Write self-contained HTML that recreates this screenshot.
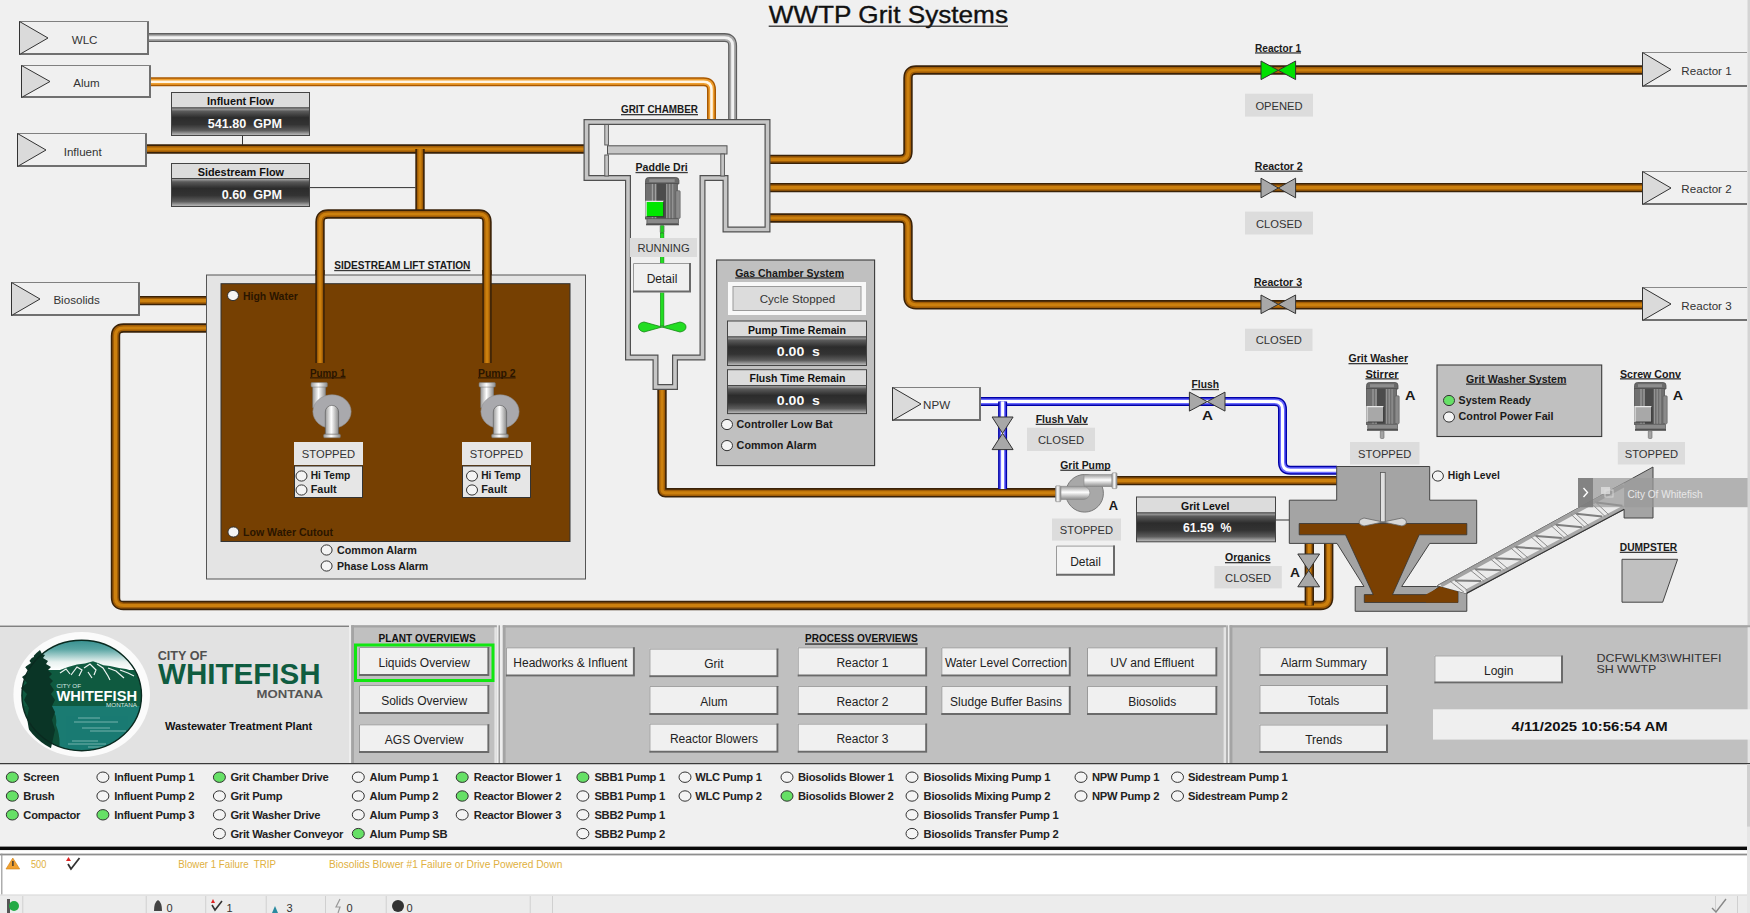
<!DOCTYPE html><html><head><meta charset="utf-8"><style>html,body{margin:0;padding:0;background:#f0f0f0;overflow:hidden;}svg{display:block;}text{font-family:"Liberation Sans",sans-serif;}</style></head><body>
<svg width="1750" height="913" viewBox="0 0 1750 913">
<defs>
<linearGradient id="gdark" x1="0" y1="0" x2="0" y2="1">
<stop offset="0" stop-color="#b4b4b4"/><stop offset="0.12" stop-color="#5a5a5a"/><stop offset="0.35" stop-color="#2c2c2c"/><stop offset="0.6" stop-color="#333"/><stop offset="0.82" stop-color="#5c5c5c"/><stop offset="0.95" stop-color="#a8a8a8"/><stop offset="1" stop-color="#bcbcbc"/>
</linearGradient>
<linearGradient id="gpipeV" x1="0" y1="0" x2="1" y2="0">
<stop offset="0" stop-color="#9a9a9a"/><stop offset="0.45" stop-color="#ffffff"/><stop offset="1" stop-color="#8a8a8a"/>
</linearGradient>
<linearGradient id="gpipeH" x1="0" y1="0" x2="0" y2="1">
<stop offset="0" stop-color="#9a9a9a"/><stop offset="0.45" stop-color="#ffffff"/><stop offset="1" stop-color="#8a8a8a"/>
</linearGradient>
<linearGradient id="gsky" x1="0" y1="0" x2="0" y2="1">
<stop offset="0" stop-color="#2f8b8b"/><stop offset="0.35" stop-color="#5aa6a4"/><stop offset="0.75" stop-color="#e8f2f0"/><stop offset="1" stop-color="#ffffff"/>
</linearGradient>
<clipPath id="logoclip"><ellipse cx="81.7" cy="695.5" rx="59.8" ry="55.2"/></clipPath><clipPath id="treeclip"><ellipse cx="81.7" cy="695.5" rx="64" ry="60"/></clipPath>
</defs>
<rect x="0" y="0" width="1750" height="913" fill="#f0f0f0"/>
<text x="768.7" y="22.8" font-size="24.5" font-weight="normal" fill="#111" text-anchor="start" textLength="239.3" lengthAdjust="spacingAndGlyphs" stroke="#111" stroke-width="0.35">WWTP Grit Systems</text>
<rect x="768.7" y="25.6" width="239.3" height="1.2" fill="#222"/>
<path d="M149 37.6 H724.5 Q732.6 37.6 732.6 45.7 V120" fill="none" stroke="#5e5e5e" stroke-width="9" stroke-linejoin="round"/>
<path d="M149 37.6 H724.5 Q732.6 37.6 732.6 45.7 V120" fill="none" stroke="#ababab" stroke-width="6.4" stroke-linejoin="round"/>
<path d="M149 37.6 H724.5 Q732.6 37.6 732.6 45.7 V120" fill="none" stroke="#f2f2f2" stroke-width="2.8" stroke-linejoin="round"/>
<path d="M151 81.8 H703.5 Q711.5 81.8 711.5 89.8 V120" fill="none" stroke="#a85800" stroke-width="9" stroke-linejoin="round"/>
<path d="M151 81.8 H703.5 Q711.5 81.8 711.5 89.8 V120" fill="none" stroke="#f0a030" stroke-width="6" stroke-linejoin="round"/>
<path d="M151 81.8 H703.5 Q711.5 81.8 711.5 89.8 V120" fill="none" stroke="#fff6e6" stroke-width="2.6" stroke-linejoin="round"/>
<path d="M147 149 H584" fill="none" stroke="#3a2208" stroke-width="9.4" stroke-linejoin="round"/>
<path d="M147 149 H584" fill="none" stroke="#a05c06" stroke-width="6.2" stroke-linejoin="round"/>
<path d="M147 149 H584" fill="none" stroke="#cc800e" stroke-width="3.2" stroke-linejoin="round"/>
<path d="M420 149 V214" fill="none" stroke="#3a2208" stroke-width="9.4" stroke-linejoin="round"/>
<path d="M420 149 V214" fill="none" stroke="#a05c06" stroke-width="6.2" stroke-linejoin="round"/>
<path d="M420 149 V214" fill="none" stroke="#cc800e" stroke-width="3.2" stroke-linejoin="round"/>
<path d="M320 363 V222 Q320 214 328 214 H479 Q487 214 487 222 V363" fill="none" stroke="#3a2208" stroke-width="9.4" stroke-linejoin="round"/>
<path d="M320 363 V222 Q320 214 328 214 H479 Q487 214 487 222 V363" fill="none" stroke="#a05c06" stroke-width="6.2" stroke-linejoin="round"/>
<path d="M320 363 V222 Q320 214 328 214 H479 Q487 214 487 222 V363" fill="none" stroke="#cc800e" stroke-width="3.2" stroke-linejoin="round"/>
<path d="M140 300.6 H207" fill="none" stroke="#3a2208" stroke-width="9.4" stroke-linejoin="round"/>
<path d="M140 300.6 H207" fill="none" stroke="#a05c06" stroke-width="6.2" stroke-linejoin="round"/>
<path d="M140 300.6 H207" fill="none" stroke="#cc800e" stroke-width="3.2" stroke-linejoin="round"/>
<path d="M207 328 H123.5 Q115.5 328 115.5 336 V597.5 Q115.5 605.5 123.5 605.5 H1320.7 Q1328.7 605.5 1328.7 597.5 V543" fill="none" stroke="#3a2208" stroke-width="9.4" stroke-linejoin="round"/>
<path d="M207 328 H123.5 Q115.5 328 115.5 336 V597.5 Q115.5 605.5 123.5 605.5 H1320.7 Q1328.7 605.5 1328.7 597.5 V543" fill="none" stroke="#a05c06" stroke-width="6.2" stroke-linejoin="round"/>
<path d="M207 328 H123.5 Q115.5 328 115.5 336 V597.5 Q115.5 605.5 123.5 605.5 H1320.7 Q1328.7 605.5 1328.7 597.5 V543" fill="none" stroke="#cc800e" stroke-width="3.2" stroke-linejoin="round"/>
<path d="M1309.3 543 V605.5" fill="none" stroke="#3a2208" stroke-width="9.4" stroke-linejoin="round"/>
<path d="M1309.3 543 V605.5" fill="none" stroke="#a05c06" stroke-width="6.2" stroke-linejoin="round"/>
<path d="M1309.3 543 V605.5" fill="none" stroke="#cc800e" stroke-width="3.2" stroke-linejoin="round"/>
<path d="M662 389 V489.3 Q662 492.8 665.5 492.8 H1056" fill="none" stroke="#3a2208" stroke-width="9.4" stroke-linejoin="round"/>
<path d="M662 389 V489.3 Q662 492.8 665.5 492.8 H1056" fill="none" stroke="#a05c06" stroke-width="6.2" stroke-linejoin="round"/>
<path d="M662 389 V489.3 Q662 492.8 665.5 492.8 H1056" fill="none" stroke="#cc800e" stroke-width="3.2" stroke-linejoin="round"/>
<path d="M1117 480.6 H1337" fill="none" stroke="#3a2208" stroke-width="9.4" stroke-linejoin="round"/>
<path d="M1117 480.6 H1337" fill="none" stroke="#a05c06" stroke-width="6.2" stroke-linejoin="round"/>
<path d="M1117 480.6 H1337" fill="none" stroke="#cc800e" stroke-width="3.2" stroke-linejoin="round"/>
<path d="M770 159.4 H900 Q908 159.4 908 151.4 V78 Q908 70 916 70 H1642" fill="none" stroke="#3a2208" stroke-width="9.4" stroke-linejoin="round"/>
<path d="M770 159.4 H900 Q908 159.4 908 151.4 V78 Q908 70 916 70 H1642" fill="none" stroke="#a05c06" stroke-width="6.2" stroke-linejoin="round"/>
<path d="M770 159.4 H900 Q908 159.4 908 151.4 V78 Q908 70 916 70 H1642" fill="none" stroke="#cc800e" stroke-width="3.2" stroke-linejoin="round"/>
<path d="M770 187.6 H1642" fill="none" stroke="#3a2208" stroke-width="9.4" stroke-linejoin="round"/>
<path d="M770 187.6 H1642" fill="none" stroke="#a05c06" stroke-width="6.2" stroke-linejoin="round"/>
<path d="M770 187.6 H1642" fill="none" stroke="#cc800e" stroke-width="3.2" stroke-linejoin="round"/>
<path d="M770 218 H900 Q908 218 908 226 V296.8 Q908 304.8 916 304.8 H1642" fill="none" stroke="#3a2208" stroke-width="9.4" stroke-linejoin="round"/>
<path d="M770 218 H900 Q908 218 908 226 V296.8 Q908 304.8 916 304.8 H1642" fill="none" stroke="#a05c06" stroke-width="6.2" stroke-linejoin="round"/>
<path d="M770 218 H900 Q908 218 908 226 V296.8 Q908 304.8 916 304.8 H1642" fill="none" stroke="#cc800e" stroke-width="3.2" stroke-linejoin="round"/>
<path d="M981 401.4 H1274.5 Q1282.5 401.4 1282.5 409.4 V462.3 Q1282.5 470.3 1290.5 470.3 H1337" fill="none" stroke="#0000a8" stroke-width="9" stroke-linejoin="round"/>
<path d="M981 401.4 H1274.5 Q1282.5 401.4 1282.5 409.4 V462.3 Q1282.5 470.3 1290.5 470.3 H1337" fill="none" stroke="#6a6aff" stroke-width="6" stroke-linejoin="round"/>
<path d="M981 401.4 H1274.5 Q1282.5 401.4 1282.5 409.4 V462.3 Q1282.5 470.3 1290.5 470.3 H1337" fill="none" stroke="#ffffff" stroke-width="3" stroke-linejoin="round"/>
<path d="M1002.6 401.4 V489" fill="none" stroke="#0000a8" stroke-width="9" stroke-linejoin="round"/>
<path d="M1002.6 401.4 V489" fill="none" stroke="#6a6aff" stroke-width="6" stroke-linejoin="round"/>
<path d="M1002.6 401.4 V489" fill="none" stroke="#ffffff" stroke-width="3" stroke-linejoin="round"/>
<path d="M242.5 136 V145 M310 187.6 H415.5 M1275.5 520 H1289.3" stroke="#333" stroke-width="1" fill="none"/>
<rect x="19.5" y="21.5" width="129" height="33" fill="#f0f0f0" stroke="#808080" stroke-width="1"/>
<path d="M20 54 H148 V22" fill="none" stroke="#707070" stroke-width="2"/>
<path d="M19.5 21.5 L48 38.0 L19.5 54.5 Z" fill="#dadada" stroke="#333" stroke-width="1"/>
<text x="84.6" y="43.6" font-size="11.6" font-weight="normal" fill="#333" text-anchor="middle" >WLC</text>
<rect x="21.5" y="65.5" width="129" height="32" fill="#f0f0f0" stroke="#808080" stroke-width="1"/>
<path d="M22 97 H150 V66" fill="none" stroke="#707070" stroke-width="2"/>
<path d="M21.5 65.5 L50 81.5 L21.5 97.5 Z" fill="#dadada" stroke="#333" stroke-width="1"/>
<text x="86.5" y="86.5" font-size="11.6" font-weight="normal" fill="#333" text-anchor="middle" >Alum</text>
<rect x="17.5" y="133.5" width="129" height="33" fill="#f0f0f0" stroke="#808080" stroke-width="1"/>
<path d="M18 166 H146 V134" fill="none" stroke="#707070" stroke-width="2"/>
<path d="M17.5 133.5 L46 150.0 L17.5 166.5 Z" fill="#dadada" stroke="#333" stroke-width="1"/>
<text x="82.7" y="155.5" font-size="11.6" font-weight="normal" fill="#333" text-anchor="middle" >Influent</text>
<rect x="11.5" y="282.5" width="128" height="33" fill="#f0f0f0" stroke="#808080" stroke-width="1"/>
<path d="M12 315 H139 V283" fill="none" stroke="#707070" stroke-width="2"/>
<path d="M11.5 282.5 L40 299.0 L11.5 315.5 Z" fill="#dadada" stroke="#333" stroke-width="1"/>
<text x="76.6" y="303.8" font-size="11.6" font-weight="normal" fill="#333" text-anchor="middle" >Biosolids</text>
<rect x="1642" y="52" width="105" height="35" fill="#f0f0f0"/>
<path d="M1747 52.5 H1642.5 V86 " fill="none" stroke="#8a8a8a" stroke-width="1"/>
<path d="M1643 86 H1747" fill="none" stroke="#707070" stroke-width="2"/>
<path d="M1642.5 52.5 L1671 69.5 L1642.5 86.5 Z" fill="#dadada" stroke="#333" stroke-width="1"/>
<text x="1706.5" y="74.6" font-size="11.6" font-weight="normal" fill="#333" text-anchor="middle" >Reactor 1</text>
<rect x="1642" y="171" width="105" height="34" fill="#f0f0f0"/>
<path d="M1747 171.5 H1642.5 V204 " fill="none" stroke="#8a8a8a" stroke-width="1"/>
<path d="M1643 204 H1747" fill="none" stroke="#707070" stroke-width="2"/>
<path d="M1642.5 171.5 L1671 188.0 L1642.5 204.5 Z" fill="#dadada" stroke="#333" stroke-width="1"/>
<text x="1706.5" y="192.6" font-size="11.6" font-weight="normal" fill="#333" text-anchor="middle" >Reactor 2</text>
<rect x="1642" y="287" width="105" height="34" fill="#f0f0f0"/>
<path d="M1747 287.5 H1642.5 V320 " fill="none" stroke="#8a8a8a" stroke-width="1"/>
<path d="M1643 320 H1747" fill="none" stroke="#707070" stroke-width="2"/>
<path d="M1642.5 287.5 L1671 304.0 L1642.5 320.5 Z" fill="#dadada" stroke="#333" stroke-width="1"/>
<text x="1706.5" y="309.6" font-size="11.6" font-weight="normal" fill="#333" text-anchor="middle" >Reactor 3</text>
<rect x="892.5" y="387.5" width="88" height="33" fill="#f0f0f0" stroke="#808080" stroke-width="1"/>
<path d="M893 420 H980 V388" fill="none" stroke="#707070" stroke-width="2"/>
<path d="M892.5 387.5 L921 404.0 L892.5 420.5 Z" fill="#dadada" stroke="#333" stroke-width="1"/>
<text x="936.6" y="408.5" font-size="11.6" font-weight="normal" fill="#333" text-anchor="middle" >NPW</text>
<rect x="171.5" y="92.5" width="138.0" height="15.5" fill="#dcdcdc" stroke="#444" stroke-width="1"/>
<rect x="171.5" y="108" width="138.0" height="27.5" fill="url(#gdark)" stroke="#444" stroke-width="1"/>
<text x="207" y="104.5" font-size="11.5" font-weight="bold" fill="#111" text-anchor="start" textLength="67" lengthAdjust="spacingAndGlyphs" >Influent Flow</text>
<text x="207.8" y="127.7" font-size="13.5" font-weight="bold" fill="#fafafa" text-anchor="start" textLength="74.2" lengthAdjust="spacingAndGlyphs" xml:space="preserve">541.80  GPM</text>
<rect x="171.5" y="163.5" width="138.0" height="15.0" fill="#dcdcdc" stroke="#444" stroke-width="1"/>
<rect x="171.5" y="178.5" width="138.0" height="28.0" fill="url(#gdark)" stroke="#444" stroke-width="1"/>
<text x="197.7" y="176.3" font-size="11.5" font-weight="bold" fill="#111" text-anchor="start" textLength="86.3" lengthAdjust="spacingAndGlyphs" >Sidestream Flow</text>
<text x="221.7" y="198.7" font-size="13.5" font-weight="bold" fill="#fafafa" text-anchor="start" textLength="60.3" lengthAdjust="spacingAndGlyphs" xml:space="preserve">0.60  GPM</text>
<text x="621" y="113.3" font-size="11.5" font-weight="bold" fill="#1a1a1a" text-anchor="start" textLength="77" lengthAdjust="spacingAndGlyphs" >GRIT CHAMBER</text>
<rect x="621" y="114.0" width="77" height="1.3" fill="#1a1a1a" opacity="0.85"/>
<path d="M702.5 178 L702.5 357.5 L675 357.5 L675 387 L655.5 387 L655.5 357.5 L628 357.5 L628 178 L586.5 178 L586.5 122 L767.5 122 L767.5 229.5 L725.5 229.5 L725.5 178 Z" fill="none" stroke="#505050" stroke-width="6" stroke-linejoin="miter"/>
<path d="M702.5 178 L702.5 357.5 L675 357.5 L675 387 L655.5 387 L655.5 357.5 L628 357.5 L628 178 L586.5 178 L586.5 122 L767.5 122 L767.5 229.5 L725.5 229.5 L725.5 178 Z" fill="none" stroke="#c6c6c6" stroke-width="3.6" stroke-linejoin="miter"/>
<rect x="607.5" y="145.8" width="119.5" height="8.2" fill="#c6c6c6" stroke="#505050" stroke-width="1"/>
<rect x="604.8" y="124.5" width="3.6" height="20.5" fill="#c6c6c6" stroke="#505050" stroke-width="0.9"/>
<rect x="604.8" y="155" width="3.6" height="21" fill="#c6c6c6" stroke="#505050" stroke-width="0.9"/>
<rect x="720.8" y="154" width="3.6" height="22" fill="#c6c6c6" stroke="#505050" stroke-width="0.9"/>
<text x="635.5" y="171.2" font-size="11.5" font-weight="bold" fill="#1a1a1a" text-anchor="start" textLength="52.3" lengthAdjust="spacingAndGlyphs" >Paddle Dri</text>
<rect x="635.5" y="171.89999999999998" width="52.3" height="1.3" fill="#1a1a1a" opacity="0.85"/>
<g transform="translate(645,177) scale(1.06,0.99)">
<path d="M0.5 7 V3.5 Q0.5 0.5 3.5 0.5 H29 Q32 0.5 32 3.5 V7 Z" fill="#6a6a6a" stroke="#505050" stroke-width="0.8"/>
<rect x="4" y="2.2" width="24" height="3" fill="#8e8e8e"/>
<rect x="0.5" y="6.6" width="30" height="35.8" fill="#707070" stroke="#505050" stroke-width="0.8"/>
<rect x="6.4" y="7" width="1.2" height="35" fill="#a0a0a0"/><rect x="9.4" y="7" width="1.2" height="35" fill="#a0a0a0"/>
<rect x="11" y="7" width="8.8" height="35" fill="#4c4c4c"/>
<rect x="19.8" y="7" width="1.2" height="35" fill="#949494"/><rect x="22.6" y="7" width="1.2" height="35" fill="#949494"/><rect x="25.5" y="7" width="1.2" height="35" fill="#949494"/>
<rect x="29" y="13.8" width="4.2" height="28" rx="1" fill="#8a8a8a" stroke="#5a5a5a" stroke-width="0.6"/>
<rect x="1" y="24.6" width="16.6" height="15.4" fill="#00e600"/>
<path d="M1 40 V24.6 H17.6" fill="none" stroke="#e8e8e8" stroke-width="1.2"/><path d="M1.5 40 H17.6 V24.6" fill="none" stroke="#333" stroke-width="0.9"/>
<rect x="1.8" y="42.2" width="29.7" height="4.8" fill="#8a8a8a" stroke="#555" stroke-width="0.7"/>
<rect x="1" y="47" width="31" height="1.8" fill="#505050"/>
<rect x="14.3" y="48.8" width="3.7" height="7.7" rx="1" fill="#22cc22" stroke="#666" stroke-width="0.6"/>
</g>
<rect x="660.3" y="233" width="3.6" height="93" fill="#22dd22" stroke="#118811" stroke-width="0.6"/>
<path d="M662 327 L644 322 Q638 323 638.5 327 Q639 331 644 332 Z M662 327 L680 322 Q686 323 686 327 Q686 331 680 332 Z" fill="#22dd22" stroke="#118811" stroke-width="0.8"/>
<rect x="630" y="238" width="67" height="19" fill="#dcdcdc"/>
<text x="663.5" y="252.0" font-size="11.2" font-weight="normal" fill="#333" text-anchor="middle" >RUNNING</text>
<rect x="633" y="263" width="58" height="29.5" fill="#f0f0f0"/>
<path d="M633.5 292.5 V263.5 H691" fill="none" stroke="#9a9a9a" stroke-width="1"/>
<path d="M633 291.5 H690 V263" fill="none" stroke="#6a6a6a" stroke-width="2"/>
<text x="662.0" y="282.9" font-size="12" font-weight="normal" fill="#222" text-anchor="middle" >Detail</text>
<text x="334.2" y="269.2" font-size="11.5" font-weight="bold" fill="#1a1a1a" text-anchor="start" textLength="136.2" lengthAdjust="spacingAndGlyphs" >SIDESTREAM LIFT STATION</text>
<rect x="334.2" y="269.9" width="136.2" height="1.3" fill="#1a1a1a" opacity="0.85"/>
<rect x="206.5" y="275" width="379" height="304" fill="#e4e4e4" stroke="#555" stroke-width="1"/>
<rect x="221" y="283.7" width="349" height="257.8" fill="#764002" stroke="#333" stroke-width="1"/>
<path d="M320 270 V363" fill="none" stroke="#3a2208" stroke-width="9.4" stroke-linejoin="round"/>
<path d="M320 270 V363" fill="none" stroke="#a05c06" stroke-width="6.2" stroke-linejoin="round"/>
<path d="M320 270 V363" fill="none" stroke="#cc800e" stroke-width="3.2" stroke-linejoin="round"/>
<path d="M487 270 V363" fill="none" stroke="#3a2208" stroke-width="9.4" stroke-linejoin="round"/>
<path d="M487 270 V363" fill="none" stroke="#a05c06" stroke-width="6.2" stroke-linejoin="round"/>
<path d="M487 270 V363" fill="none" stroke="#cc800e" stroke-width="3.2" stroke-linejoin="round"/>
<ellipse cx="233" cy="295.5" rx="5.5" ry="5.1" fill="#f4f4f4" stroke="#333" stroke-width="1"/>
<text x="243" y="299.5" font-size="11.5" font-weight="bold" fill="#2a1500" text-anchor="start" textLength="54.8" lengthAdjust="spacingAndGlyphs" >High Water</text>
<ellipse cx="233.4" cy="532" rx="5.5" ry="5.1" fill="#f4f4f4" stroke="#333" stroke-width="1"/>
<text x="243" y="536" font-size="11.5" font-weight="bold" fill="#2a1500" text-anchor="start" textLength="90" lengthAdjust="spacingAndGlyphs" >Low Water Cutout</text>
<ellipse cx="326.6" cy="550" rx="5.5" ry="5.1" fill="#f4f4f4" stroke="#333" stroke-width="1"/>
<text x="337" y="554" font-size="11.5" font-weight="bold" fill="#1a1a1a" text-anchor="start" textLength="79.7" lengthAdjust="spacingAndGlyphs" >Common Alarm</text>
<ellipse cx="326.6" cy="566" rx="5.5" ry="5.1" fill="#f4f4f4" stroke="#333" stroke-width="1"/>
<text x="337" y="570" font-size="11.5" font-weight="bold" fill="#1a1a1a" text-anchor="start" textLength="91.2" lengthAdjust="spacingAndGlyphs" >Phase Loss Alarm</text>
<text x="310" y="376.5" font-size="11.5" font-weight="bold" fill="#2a1500" text-anchor="start" textLength="35.6" lengthAdjust="spacingAndGlyphs" >Pump 1</text>
<rect x="310" y="377.2" width="35.6" height="1.3" fill="#2a1500" opacity="0.85"/>
<g transform="translate(311,382.6)">
<rect x="1.7" y="4" width="13" height="21" fill="url(#gpipeV)" stroke="#777" stroke-width="0.5"/>
<ellipse cx="21" cy="29" rx="19.1" ry="16.8" fill="#a9a9ad" stroke="#8e8e92" stroke-width="0.6"/>
<rect x="0" y="0" width="16.4" height="4.5" rx="1" fill="url(#gpipeV)" stroke="#777" stroke-width="0.5"/>
<path d="M14.3 51.8 V29.4 a6.65 6.65 0 0 1 13.3 0 V51.8 Z" fill="url(#gpipeV)" stroke="#555" stroke-width="0.6"/>
<rect x="12.6" y="51.6" width="16.8" height="3.6" rx="1" fill="url(#gpipeV)" stroke="#777" stroke-width="0.5"/>
</g>
<rect x="294" y="442" width="69" height="23" fill="#e6e6e6"/>
<text x="328.5" y="458.0" font-size="11.2" font-weight="normal" fill="#333" text-anchor="middle" >STOPPED</text>
<rect x="294.5" y="466" width="68" height="31.5" fill="#e6e6e6" stroke="#333" stroke-width="1"/>
<ellipse cx="301.5" cy="476" rx="5.5" ry="5.1" fill="#f4f4f4" stroke="#333" stroke-width="1"/>
<text x="310.7" y="479" font-size="11.5" font-weight="bold" fill="#1a1a1a" text-anchor="start" textLength="39.5" lengthAdjust="spacingAndGlyphs" >Hi Temp</text>
<ellipse cx="301.5" cy="490" rx="5.5" ry="5.1" fill="#f4f4f4" stroke="#333" stroke-width="1"/>
<text x="310.7" y="493" font-size="11.5" font-weight="bold" fill="#1a1a1a" text-anchor="start" textLength="26.0" lengthAdjust="spacingAndGlyphs" >Fault</text>
<text x="478" y="376.5" font-size="11.5" font-weight="bold" fill="#2a1500" text-anchor="start" textLength="37.6" lengthAdjust="spacingAndGlyphs" >Pump 2</text>
<rect x="478" y="377.2" width="37.6" height="1.3" fill="#2a1500" opacity="0.85"/>
<g transform="translate(479,382.6)">
<rect x="1.7" y="4" width="13" height="21" fill="url(#gpipeV)" stroke="#777" stroke-width="0.5"/>
<ellipse cx="21" cy="29" rx="19.1" ry="16.8" fill="#a9a9ad" stroke="#8e8e92" stroke-width="0.6"/>
<rect x="0" y="0" width="16.4" height="4.5" rx="1" fill="url(#gpipeV)" stroke="#777" stroke-width="0.5"/>
<path d="M14.3 51.8 V29.4 a6.65 6.65 0 0 1 13.3 0 V51.8 Z" fill="url(#gpipeV)" stroke="#555" stroke-width="0.6"/>
<rect x="12.6" y="51.6" width="16.8" height="3.6" rx="1" fill="url(#gpipeV)" stroke="#777" stroke-width="0.5"/>
</g>
<rect x="462" y="442" width="69" height="23" fill="#e6e6e6"/>
<text x="496.5" y="458.0" font-size="11.2" font-weight="normal" fill="#333" text-anchor="middle" >STOPPED</text>
<rect x="462.5" y="466" width="68" height="31.5" fill="#e6e6e6" stroke="#333" stroke-width="1"/>
<ellipse cx="472.0" cy="476" rx="5.5" ry="5.1" fill="#f4f4f4" stroke="#333" stroke-width="1"/>
<text x="481.2" y="479" font-size="11.5" font-weight="bold" fill="#1a1a1a" text-anchor="start" textLength="39.5" lengthAdjust="spacingAndGlyphs" >Hi Temp</text>
<ellipse cx="472.0" cy="490" rx="5.5" ry="5.1" fill="#f4f4f4" stroke="#333" stroke-width="1"/>
<text x="481.2" y="493" font-size="11.5" font-weight="bold" fill="#1a1a1a" text-anchor="start" textLength="26.0" lengthAdjust="spacingAndGlyphs" >Fault</text>
<text x="1255" y="51.6" font-size="11.5" font-weight="bold" fill="#1a1a1a" text-anchor="start" textLength="46" lengthAdjust="spacingAndGlyphs" >Reactor 1</text>
<rect x="1255" y="52.300000000000004" width="46" height="1.3" fill="#1a1a1a" opacity="0.85"/>
<path d="M1261.0 61.0 L1278.3 70.3 L1261.0 79.6 Z M1295.6 61.0 L1278.3 70.3 L1295.6 79.6 Z" fill="#00e000" stroke="#333" stroke-width="1"/>
<rect x="1245" y="93.7" width="68" height="22.89999999999999" fill="#dcdcdc"/>
<text x="1279.0" y="109.7" font-size="11.2" font-weight="normal" fill="#333" text-anchor="middle" >OPENED</text>
<text x="1254.8" y="169.8" font-size="11.5" font-weight="bold" fill="#1a1a1a" text-anchor="start" textLength="47.9" lengthAdjust="spacingAndGlyphs" >Reactor 2</text>
<rect x="1254.8" y="170.5" width="47.9" height="1.3" fill="#1a1a1a" opacity="0.85"/>
<path d="M1261.0 178.2 L1278.3 188 L1261.0 197.8 Z M1295.6 178.2 L1278.3 188 L1295.6 197.8 Z" fill="#a8a8a8" stroke="#333" stroke-width="1"/>
<rect x="1245" y="211.6" width="68" height="22.900000000000006" fill="#dcdcdc"/>
<text x="1279.0" y="227.6" font-size="11.2" font-weight="normal" fill="#333" text-anchor="middle" >CLOSED</text>
<text x="1254" y="285.8" font-size="11.5" font-weight="bold" fill="#1a1a1a" text-anchor="start" textLength="48" lengthAdjust="spacingAndGlyphs" >Reactor 3</text>
<rect x="1254" y="286.5" width="48" height="1.3" fill="#1a1a1a" opacity="0.85"/>
<path d="M1261.0 295.0 L1278.3 304.3 L1261.0 313.6 Z M1295.6 295.0 L1278.3 304.3 L1295.6 313.6 Z" fill="#a8a8a8" stroke="#333" stroke-width="1"/>
<rect x="1245" y="328.7" width="67.5" height="22.30000000000001" fill="#dcdcdc"/>
<text x="1278.75" y="344.4" font-size="11.2" font-weight="normal" fill="#333" text-anchor="middle" >CLOSED</text>
<rect x="716.6" y="260" width="158" height="205.6" fill="#c0c0c0" stroke="#3a3a3a" stroke-width="1.1"/>
<text x="735.2" y="276.6" font-size="11.5" font-weight="bold" fill="#1a1a1a" text-anchor="start" textLength="108.8" lengthAdjust="spacingAndGlyphs" >Gas Chamber System</text>
<rect x="735.2" y="277.3" width="108.8" height="1.3" fill="#1a1a1a" opacity="0.85"/>
<rect x="728" y="282" width="138" height="33" fill="#f8f8f8"/>
<rect x="733" y="286.5" width="128" height="24" fill="#dcdcdc" stroke="#9a9a9a" stroke-width="1"/>
<text x="797.4" y="303.3" font-size="11.6" font-weight="normal" fill="#333" text-anchor="middle" >Cycle Stopped</text>
<rect x="727.5" y="321" width="139.0" height="16" fill="#dcdcdc" stroke="#444" stroke-width="1"/>
<rect x="727.5" y="337" width="139.0" height="28.5" fill="url(#gdark)" stroke="#444" stroke-width="1"/>
<text x="748" y="333.6" font-size="11.5" font-weight="bold" fill="#111" text-anchor="start" textLength="98" lengthAdjust="spacingAndGlyphs" >Pump Time Remain</text>
<text x="776.8" y="355.8" font-size="13.5" font-weight="bold" fill="#fafafa" text-anchor="start" textLength="43.1" lengthAdjust="spacingAndGlyphs" xml:space="preserve">0.00  s</text>
<rect x="727.5" y="369.7" width="139.0" height="15.900000000000034" fill="#dcdcdc" stroke="#444" stroke-width="1"/>
<rect x="727.5" y="385.6" width="139.0" height="28.0" fill="url(#gdark)" stroke="#444" stroke-width="1"/>
<text x="749.5" y="382" font-size="11.5" font-weight="bold" fill="#111" text-anchor="start" textLength="95.8" lengthAdjust="spacingAndGlyphs" >Flush Time Remain</text>
<text x="776.8" y="404.5" font-size="13.5" font-weight="bold" fill="#fafafa" text-anchor="start" textLength="43.1" lengthAdjust="spacingAndGlyphs" xml:space="preserve">0.00  s</text>
<ellipse cx="727" cy="424.5" rx="5.5" ry="5.1" fill="#f4f4f4" stroke="#333" stroke-width="1"/>
<text x="736.6" y="427.8" font-size="11.5" font-weight="bold" fill="#1a1a1a" text-anchor="start" textLength="95.9" lengthAdjust="spacingAndGlyphs" >Controller Low Bat</text>
<ellipse cx="727" cy="445.6" rx="5.5" ry="5.1" fill="#f4f4f4" stroke="#333" stroke-width="1"/>
<text x="736.6" y="449.2" font-size="11.5" font-weight="bold" fill="#1a1a1a" text-anchor="start" textLength="80.0" lengthAdjust="spacingAndGlyphs" >Common Alarm</text>
<text x="1035.7" y="423" font-size="11.5" font-weight="bold" fill="#1a1a1a" text-anchor="start" textLength="52.1" lengthAdjust="spacingAndGlyphs" >Flush Valv</text>
<rect x="1035.7" y="423.7" width="52.1" height="1.3" fill="#1a1a1a" opacity="0.85"/>
<path d="M992.1 417.0 L1002.6 433.3 L1013.1 417.0 Z M992.1 449.6 L1002.6 433.3 L1013.1 449.6 Z" fill="#a8a8a8" stroke="#333" stroke-width="1"/>
<rect x="1027" y="427.7" width="68" height="23.30000000000001" fill="#dcdcdc"/>
<text x="1061.0" y="443.9" font-size="11.2" font-weight="normal" fill="#333" text-anchor="middle" >CLOSED</text>
<text x="1191.6" y="388.2" font-size="11.5" font-weight="bold" fill="#1a1a1a" text-anchor="start" textLength="27.4" lengthAdjust="spacingAndGlyphs" >Flush</text>
<rect x="1191.6" y="388.9" width="27.4" height="1.3" fill="#1a1a1a" opacity="0.85"/>
<path d="M1189.4 392.1 L1207.2 401.6 L1189.4 411.1 Z M1225.0 392.1 L1207.2 401.6 L1225.0 411.1 Z" fill="#a8a8a8" stroke="#333" stroke-width="1"/>
<text x="1202" y="420" font-size="13" font-weight="bold" fill="#1a1a1a" text-anchor="start" textLength="11" lengthAdjust="spacingAndGlyphs" >A</text>
<text x="1060.3" y="468.9" font-size="11.5" font-weight="bold" fill="#1a1a1a" text-anchor="start" textLength="50.2" lengthAdjust="spacingAndGlyphs" >Grit Pump</text>
<rect x="1060.3" y="469.59999999999997" width="50.2" height="1.3" fill="#1a1a1a" opacity="0.85"/>
<g>
<circle cx="1084.6" cy="493.3" r="18.8" fill="#a8a8a8" stroke="#7a7a7a" stroke-width="1"/>
<rect x="1084" y="474.6" width="28" height="12.1" fill="url(#gpipeH)" stroke="#888" stroke-width="0.6"/>
<rect x="1112" y="472.8" width="5" height="15.8" rx="1" fill="url(#gpipeV)" stroke="#888" stroke-width="0.6"/>
<path d="M1060.7 486.3 H1083.3 a6.6 6.6 0 0 1 0 13.2 H1060.7 Z" fill="url(#gpipeH)" stroke="#888" stroke-width="0.6"/>
<rect x="1055.5" y="485.8" width="5.3" height="15.9" rx="1" fill="url(#gpipeV)" stroke="#888" stroke-width="0.6"/>
</g>
<text x="1108.7" y="509.8" font-size="13" font-weight="bold" fill="#1a1a1a" text-anchor="start" textLength="9.3" lengthAdjust="spacingAndGlyphs" >A</text>
<rect x="1052" y="518.5" width="69" height="22.100000000000023" fill="#dcdcdc"/>
<text x="1086.5" y="534.1" font-size="11.2" font-weight="normal" fill="#333" text-anchor="middle" >STOPPED</text>
<rect x="1056" y="545.6" width="59" height="30.199999999999932" fill="#f4f4f4"/>
<path d="M1056.5 575.8 V546.1 H1115" fill="none" stroke="#9a9a9a" stroke-width="1"/>
<path d="M1056 574.8 H1114 V545.6" fill="none" stroke="#6a6a6a" stroke-width="2"/>
<text x="1085.5" y="565.8" font-size="12" font-weight="normal" fill="#222" text-anchor="middle" >Detail</text>
<rect x="1136.5" y="497" width="139.0" height="16" fill="#dcdcdc" stroke="#444" stroke-width="1"/>
<rect x="1136.5" y="513" width="139.0" height="28.799999999999955" fill="url(#gdark)" stroke="#444" stroke-width="1"/>
<text x="1181" y="509.6" font-size="11.5" font-weight="bold" fill="#111" text-anchor="start" textLength="48.5" lengthAdjust="spacingAndGlyphs" >Grit Level</text>
<text x="1183" y="531.7" font-size="13.5" font-weight="bold" fill="#fafafa" text-anchor="start" textLength="48.5" lengthAdjust="spacingAndGlyphs" xml:space="preserve">61.59  %</text>
<text x="1225" y="561.3" font-size="11.5" font-weight="bold" fill="#1a1a1a" text-anchor="start" textLength="45.5" lengthAdjust="spacingAndGlyphs" >Organics</text>
<rect x="1225" y="562.0" width="45.5" height="1.3" fill="#1a1a1a" opacity="0.85"/>
<rect x="1214.4" y="566" width="67.39999999999986" height="22.399999999999977" fill="#dcdcdc"/>
<text x="1248.1" y="581.7" font-size="11.2" font-weight="normal" fill="#333" text-anchor="middle" >CLOSED</text>
<path d="M1297.8 554.0 L1308.7 570.4 L1319.6000000000001 554.0 Z M1297.8 586.8 L1308.7 570.4 L1319.6000000000001 586.8 Z" fill="#a8a8a8" stroke="#333" stroke-width="1"/>
<text x="1290" y="576.8" font-size="13" font-weight="bold" fill="#1a1a1a" text-anchor="start" textLength="10" lengthAdjust="spacingAndGlyphs" >A</text>
<path d="M1336.7 466.5 H1429.7 V500.2 H1476.7 V543.4 H1429.7 L1401.7 586.5 H1436.6 L1466.8 591.8 V611.3 H1355.2 V586.5 H1364 L1337 543.4 H1289.3 V500.2 H1336.7 Z" fill="#a4a4a4" stroke="#444" stroke-width="1"/>
<path d="M1299.2 523.5 H1466.8 V534.8 H1419.2 L1392.5 594.6 H1457.7 V588 L1429.5 588 L1436.6 594.6 Z" fill="none"/>
<path d="M1299.2 523.5 H1466.8 V534.8 H1419.2 L1392.5 594.6 H1429 L1440 586 L1458 590 V602.5 H1364.3 V594.6 H1373.2 L1345.5 534.8 H1299.2 Z" fill="#7a4002" stroke="#333" stroke-width="0.8"/>
<rect x="1380.6" y="472.4" width="4.6" height="50" fill="#e0e0e0" stroke="#555" stroke-width="0.8"/>
<path d="M1383 522 L1364 518 Q1359 519 1359 522 Q1359 525 1364 526 Z M1383 522 L1402 518 Q1406.5 519 1406.5 522 Q1406.5 525 1402 526 Z" fill="#d8d8d8" stroke="#666" stroke-width="0.8"/>
<ellipse cx="1437.9" cy="476" rx="5.5" ry="5.1" fill="#f4f4f4" stroke="#333" stroke-width="1"/>
<text x="1447.7" y="479.2" font-size="11.5" font-weight="bold" fill="#1a1a1a" text-anchor="start" textLength="52.3" lengthAdjust="spacingAndGlyphs" >High Level</text>
<text x="1348.5" y="362.3" font-size="11.5" font-weight="bold" fill="#1a1a1a" text-anchor="start" textLength="59.5" lengthAdjust="spacingAndGlyphs" >Grit Washer</text>
<rect x="1348.5" y="363.0" width="59.5" height="1.3" fill="#1a1a1a" opacity="0.85"/>
<text x="1365.4" y="377.5" font-size="11.5" font-weight="bold" fill="#1a1a1a" text-anchor="start" textLength="33.3" lengthAdjust="spacingAndGlyphs" >Stirrer</text>
<rect x="1365.4" y="378.2" width="33.3" height="1.3" fill="#1a1a1a" opacity="0.85"/>
<g transform="translate(1366,382) scale(1.0,1.0)">
<path d="M0.5 7 V3.5 Q0.5 0.5 3.5 0.5 H29 Q32 0.5 32 3.5 V7 Z" fill="#6a6a6a" stroke="#505050" stroke-width="0.8"/>
<rect x="4" y="2.2" width="24" height="3" fill="#8e8e8e"/>
<rect x="0.5" y="6.6" width="30" height="35.8" fill="#707070" stroke="#505050" stroke-width="0.8"/>
<rect x="6.4" y="7" width="1.2" height="35" fill="#a0a0a0"/><rect x="9.4" y="7" width="1.2" height="35" fill="#a0a0a0"/>
<rect x="11" y="7" width="8.8" height="35" fill="#4c4c4c"/>
<rect x="19.8" y="7" width="1.2" height="35" fill="#949494"/><rect x="22.6" y="7" width="1.2" height="35" fill="#949494"/><rect x="25.5" y="7" width="1.2" height="35" fill="#949494"/>
<rect x="29" y="13.8" width="4.2" height="28" rx="1" fill="#8a8a8a" stroke="#5a5a5a" stroke-width="0.6"/>
<rect x="1" y="24.6" width="16.6" height="15.4" fill="#a8a8a8"/>
<path d="M1 40 V24.6 H17.6" fill="none" stroke="#e8e8e8" stroke-width="1.2"/><path d="M1.5 40 H17.6 V24.6" fill="none" stroke="#333" stroke-width="0.9"/>
<rect x="1.8" y="42.2" width="29.7" height="4.8" fill="#8a8a8a" stroke="#555" stroke-width="0.7"/>
<rect x="1" y="47" width="31" height="1.8" fill="#505050"/>
<rect x="14.3" y="48.8" width="3.7" height="7.7" rx="1" fill="#a4a4a4" stroke="#666" stroke-width="0.6"/>
</g>
<text x="1405" y="400" font-size="13" font-weight="bold" fill="#1a1a1a" text-anchor="start" textLength="10.5" lengthAdjust="spacingAndGlyphs" >A</text>
<rect x="1350" y="442" width="69.5" height="22.5" fill="#dcdcdc"/>
<text x="1384.75" y="457.8" font-size="11.2" font-weight="normal" fill="#333" text-anchor="middle" >STOPPED</text>
<rect x="1437" y="365" width="164.7" height="71.5" fill="#c0c0c0" stroke="#3a3a3a" stroke-width="1.1"/>
<text x="1466" y="382.8" font-size="11.5" font-weight="bold" fill="#1a1a1a" text-anchor="start" textLength="100.4" lengthAdjust="spacingAndGlyphs" >Grit Washer System</text>
<rect x="1466" y="383.5" width="100.4" height="1.3" fill="#1a1a1a" opacity="0.85"/>
<ellipse cx="1449" cy="400.5" rx="5.5" ry="5.1" fill="#66e066" stroke="#333" stroke-width="1"/>
<text x="1458.6" y="403.8" font-size="11.5" font-weight="bold" fill="#1a1a1a" text-anchor="start" textLength="72.4" lengthAdjust="spacingAndGlyphs" >System Ready</text>
<ellipse cx="1449" cy="417" rx="5.5" ry="5.1" fill="#f4f4f4" stroke="#333" stroke-width="1"/>
<text x="1458.6" y="420.2" font-size="11.5" font-weight="bold" fill="#1a1a1a" text-anchor="start" textLength="95.0" lengthAdjust="spacingAndGlyphs" >Control Power Fail</text>
<text x="1620" y="377.5" font-size="11.5" font-weight="bold" fill="#1a1a1a" text-anchor="start" textLength="61" lengthAdjust="spacingAndGlyphs" >Screw Conv</text>
<rect x="1620" y="378.2" width="61" height="1.3" fill="#1a1a1a" opacity="0.85"/>
<g transform="translate(1634,382) scale(1.0,1.0)">
<path d="M0.5 7 V3.5 Q0.5 0.5 3.5 0.5 H29 Q32 0.5 32 3.5 V7 Z" fill="#6a6a6a" stroke="#505050" stroke-width="0.8"/>
<rect x="4" y="2.2" width="24" height="3" fill="#8e8e8e"/>
<rect x="0.5" y="6.6" width="30" height="35.8" fill="#707070" stroke="#505050" stroke-width="0.8"/>
<rect x="6.4" y="7" width="1.2" height="35" fill="#a0a0a0"/><rect x="9.4" y="7" width="1.2" height="35" fill="#a0a0a0"/>
<rect x="11" y="7" width="8.8" height="35" fill="#4c4c4c"/>
<rect x="19.8" y="7" width="1.2" height="35" fill="#949494"/><rect x="22.6" y="7" width="1.2" height="35" fill="#949494"/><rect x="25.5" y="7" width="1.2" height="35" fill="#949494"/>
<rect x="29" y="13.8" width="4.2" height="28" rx="1" fill="#8a8a8a" stroke="#5a5a5a" stroke-width="0.6"/>
<rect x="1" y="24.6" width="16.6" height="15.4" fill="#a8a8a8"/>
<path d="M1 40 V24.6 H17.6" fill="none" stroke="#e8e8e8" stroke-width="1.2"/><path d="M1.5 40 H17.6 V24.6" fill="none" stroke="#333" stroke-width="0.9"/>
<rect x="1.8" y="42.2" width="29.7" height="4.8" fill="#8a8a8a" stroke="#555" stroke-width="0.7"/>
<rect x="1" y="47" width="31" height="1.8" fill="#505050"/>
<rect x="14.3" y="48.8" width="3.7" height="7.7" rx="1" fill="#a4a4a4" stroke="#666" stroke-width="0.6"/>
</g>
<text x="1672.7" y="400" font-size="13" font-weight="bold" fill="#1a1a1a" text-anchor="start" textLength="10.3" lengthAdjust="spacingAndGlyphs" >A</text>
<rect x="1617.8" y="442" width="67.20000000000005" height="22.5" fill="#dcdcdc"/>
<text x="1651.4" y="457.8" font-size="11.2" font-weight="normal" fill="#333" text-anchor="middle" >STOPPED</text>
<path d="M1437.5 585.5 L1653 467 V518 H1624.1 V509.3 L1466.4 593.4 Z" fill="#a4a4a4" stroke="#444" stroke-width="1"/>
<path d="M1437.5 585.5 L1624.1 482.9 V509.3 L1466.4 593.4 Z" fill="#ebebeb"/>
<path d="M1441 585.6 L1624.1 485.5" stroke="#a2a2a2" stroke-width="3.6" fill="none"/>
<path d="M1466 591.2 L1624.1 506.9" stroke="#a8a8a8" stroke-width="3.4" fill="none"/>
<path d="M1450.0 581.1 L1464.0 592.2 M1453.5 579.2 L1467.5 590.3 M1470.2 570.0 L1484.2 581.4 M1473.7 568.1 L1487.7 579.5 M1490.4 558.9 L1504.4 570.6 M1493.9 557.0 L1507.9 568.8 M1510.6 547.8 L1524.6 559.9 M1514.1 545.9 L1528.1 558.0 M1530.8 536.7 L1544.8 549.1 M1534.3 534.8 L1548.3 547.2 M1551.0 525.6 L1565.0 538.3 M1554.5 523.7 L1568.5 536.5 M1571.2 514.5 L1585.2 527.5 M1574.7 512.6 L1588.7 525.7 M1591.4 503.4 L1605.4 516.8 M1594.9 501.4 L1608.9 514.9" stroke="#8a8a8a" stroke-width="1" fill="none"/>
<path d="M1455.0 580.4 L1481.0 581.1 M1475.2 569.3 L1501.2 570.3 M1495.4 558.2 L1521.4 559.6 M1515.6 547.1 L1541.6 548.8 M1535.8 535.9 L1561.8 538.0 M1556.0 524.8 L1582.0 527.3 M1576.2 513.7 L1602.2 516.5 M1596.4 502.6 L1622.4 505.7" stroke="#7e7e7e" stroke-width="2" fill="none"/>
<path d="M1437.5 585.5 L1624 482.9" stroke="#777" stroke-width="0.8"/><path d="M1466.4 593.4 L1624.1 509.3" stroke="#333" stroke-width="1.2"/>
<path d="M1426 594.6 L1437 588.5 L1449 590 L1457.7 593 V602.5 H1426 Z" fill="#7a4002"/>
<text x="1619.8" y="551" font-size="11.5" font-weight="bold" fill="#1a1a1a" text-anchor="start" textLength="57.4" lengthAdjust="spacingAndGlyphs" >DUMPSTER</text>
<rect x="1619.8" y="551.7" width="57.4" height="1.3" fill="#1a1a1a" opacity="0.85"/>
<path d="M1622 559.3 H1677.6 L1662.7 602.2 H1622 Z" fill="#c0c0c0" stroke="#444" stroke-width="1"/>
<rect x="1578" y="478" width="172" height="29.2" fill="#9a9a9a" opacity="0.72"/>
<rect x="1578" y="478" width="15" height="29.2" fill="#7a7a7a" opacity="0.85"/>
<path d="M1583.5 488 L1587.5 492.5 L1583.5 497" stroke="#fff" stroke-width="1.4" fill="none"/>
<rect x="1601" y="487" width="9" height="7" fill="#ddd" opacity="0.8"/><rect x="1605" y="490" width="8" height="7" fill="none" stroke="#ddd" stroke-width="1" opacity="0.8"/>
<text x="1627.6" y="497.5" font-size="11" font-weight="normal" fill="#e8e8e8" text-anchor="start" textLength="75" lengthAdjust="spacingAndGlyphs" >City Of Whitefish</text>
<rect x="0" y="625" width="1750" height="139" fill="#eeeeee"/>
<rect x="0" y="626" width="349" height="137.5" fill="#e2e2e2"/>
<rect x="0" y="625.6" width="349" height="1.3" fill="#777"/>
<rect x="351.2" y="625.3" width="145.60000000000002" height="138.20000000000005" fill="#c0c0c0"/>
<rect x="351.2" y="625.3" width="145.60000000000002" height="2.2" fill="#a4a4a4"/>
<rect x="351.2" y="625.3" width="2.8" height="138.20000000000005" fill="#a4a4a4"/>
<rect x="494.40000000000003" y="627.3" width="2.4" height="136.20000000000005" fill="#e4e4e4"/>
<rect x="498.6" y="625.3" width="1.2" height="138.2" fill="#8a8a8a"/>
<rect x="502.8" y="625.3" width="723.2" height="138.20000000000005" fill="#c0c0c0"/>
<rect x="502.8" y="625.3" width="723.2" height="2.2" fill="#a4a4a4"/>
<rect x="502.8" y="625.3" width="2.8" height="138.20000000000005" fill="#a4a4a4"/>
<rect x="1223.6" y="627.3" width="2.4" height="136.20000000000005" fill="#e4e4e4"/>
<rect x="1226.4" y="625.3" width="1.2" height="138.2" fill="#8a8a8a"/>
<rect x="1229.6" y="625.3" width="520.4000000000001" height="138.20000000000005" fill="#c0c0c0"/>
<rect x="1229.6" y="625.3" width="520.4000000000001" height="2.2" fill="#a4a4a4"/>
<rect x="1229.6" y="625.3" width="2.8" height="138.20000000000005" fill="#a4a4a4"/>
<rect x="1747.6" y="627.3" width="2.4" height="136.20000000000005" fill="#e4e4e4"/>
<rect x="0" y="763" width="1750" height="1.6" fill="#3a3a3a"/>
<text x="378.6" y="642" font-size="11.5" font-weight="bold" fill="#111" text-anchor="start" textLength="97.1" lengthAdjust="spacingAndGlyphs" >PLANT OVERVIEWS</text>
<rect x="355.5" y="645" width="137.5" height="35.5" fill="none" stroke="#11e611" stroke-width="3"/>
<rect x="359" y="647" width="130.39999999999998" height="29" fill="#f0f0f0"/>
<path d="M359.5 676 V647.5 H489.4" fill="none" stroke="#9a9a9a" stroke-width="1"/>
<path d="M359 675 H488.4 V647" fill="none" stroke="#6a6a6a" stroke-width="2"/>
<text x="424.2" y="666.6" font-size="12" font-weight="normal" fill="#222" text-anchor="middle" >Liquids Overview</text>
<rect x="359" y="685" width="130.39999999999998" height="29" fill="#f0f0f0"/>
<path d="M359.5 714 V685.5 H489.4" fill="none" stroke="#9a9a9a" stroke-width="1"/>
<path d="M359 713 H488.4 V685" fill="none" stroke="#6a6a6a" stroke-width="2"/>
<text x="424.2" y="704.6" font-size="12" font-weight="normal" fill="#222" text-anchor="middle" >Solids Overview</text>
<rect x="359" y="724.3" width="130.39999999999998" height="28.700000000000045" fill="#f0f0f0"/>
<path d="M359.5 753 V724.8 H489.4" fill="none" stroke="#9a9a9a" stroke-width="1"/>
<path d="M359 752 H488.4 V724.3" fill="none" stroke="#6a6a6a" stroke-width="2"/>
<text x="424.2" y="743.8" font-size="12" font-weight="normal" fill="#222" text-anchor="middle" >AGS Overview</text>
<text x="805" y="642" font-size="11.5" font-weight="bold" fill="#111" text-anchor="start" textLength="112.8" lengthAdjust="spacingAndGlyphs" >PROCESS OVERVIEWS</text>
<rect x="805" y="643.4" width="112.8" height="1.3" fill="#111" opacity="0.85"/>
<rect x="505.9" y="647.3" width="129.0" height="29.100000000000023" fill="#f0f0f0"/>
<path d="M506.4 676.4 V647.8 H634.9" fill="none" stroke="#9a9a9a" stroke-width="1"/>
<path d="M505.9 675.4 H633.9 V647.3" fill="none" stroke="#6a6a6a" stroke-width="2"/>
<text x="570.4" y="667.0" font-size="12" font-weight="normal" fill="#222" text-anchor="middle" >Headworks &amp; Influent</text>
<rect x="649.4" y="648.6" width="129.10000000000002" height="28.699999999999932" fill="#f0f0f0"/>
<path d="M649.9 677.3 V649.1 H778.5" fill="none" stroke="#9a9a9a" stroke-width="1"/>
<path d="M649.4 676.3 H777.5 V648.6" fill="none" stroke="#6a6a6a" stroke-width="2"/>
<text x="713.95" y="668.1" font-size="12" font-weight="normal" fill="#222" text-anchor="middle" >Grit</text>
<rect x="649.4" y="685.9" width="129.10000000000002" height="29.100000000000023" fill="#f0f0f0"/>
<path d="M649.9 715 V686.4 H778.5" fill="none" stroke="#9a9a9a" stroke-width="1"/>
<path d="M649.4 714 H777.5 V685.9" fill="none" stroke="#6a6a6a" stroke-width="2"/>
<text x="713.95" y="705.6" font-size="12" font-weight="normal" fill="#222" text-anchor="middle" >Alum</text>
<rect x="649.4" y="723.6" width="129.10000000000002" height="29.100000000000023" fill="#f0f0f0"/>
<path d="M649.9 752.7 V724.1 H778.5" fill="none" stroke="#9a9a9a" stroke-width="1"/>
<path d="M649.4 751.7 H777.5 V723.6" fill="none" stroke="#6a6a6a" stroke-width="2"/>
<text x="713.95" y="743.3" font-size="12" font-weight="normal" fill="#222" text-anchor="middle" >Reactor Blowers</text>
<rect x="797.7" y="647.3" width="129.5" height="29.100000000000023" fill="#f0f0f0"/>
<path d="M798.2 676.4 V647.8 H927.2" fill="none" stroke="#9a9a9a" stroke-width="1"/>
<path d="M797.7 675.4 H926.2 V647.3" fill="none" stroke="#6a6a6a" stroke-width="2"/>
<text x="862.45" y="667.0" font-size="12" font-weight="normal" fill="#222" text-anchor="middle" >Reactor 1</text>
<rect x="797.7" y="685.9" width="129.5" height="29.100000000000023" fill="#f0f0f0"/>
<path d="M798.2 715 V686.4 H927.2" fill="none" stroke="#9a9a9a" stroke-width="1"/>
<path d="M797.7 714 H926.2 V685.9" fill="none" stroke="#6a6a6a" stroke-width="2"/>
<text x="862.45" y="705.6" font-size="12" font-weight="normal" fill="#222" text-anchor="middle" >Reactor 2</text>
<rect x="797.7" y="723.6" width="129.5" height="29.100000000000023" fill="#f0f0f0"/>
<path d="M798.2 752.7 V724.1 H927.2" fill="none" stroke="#9a9a9a" stroke-width="1"/>
<path d="M797.7 751.7 H926.2 V723.6" fill="none" stroke="#6a6a6a" stroke-width="2"/>
<text x="862.45" y="743.3" font-size="12" font-weight="normal" fill="#222" text-anchor="middle" >Reactor 3</text>
<rect x="941.3" y="647.3" width="129.5" height="29.100000000000023" fill="#f0f0f0"/>
<path d="M941.8 676.4 V647.8 H1070.8" fill="none" stroke="#9a9a9a" stroke-width="1"/>
<path d="M941.3 675.4 H1069.8 V647.3" fill="none" stroke="#6a6a6a" stroke-width="2"/>
<text x="1006.05" y="667.0" font-size="12" font-weight="normal" fill="#222" text-anchor="middle" >Water Level Correction</text>
<rect x="941.3" y="685.9" width="129.5" height="29.100000000000023" fill="#f0f0f0"/>
<path d="M941.8 715 V686.4 H1070.8" fill="none" stroke="#9a9a9a" stroke-width="1"/>
<path d="M941.3 714 H1069.8 V685.9" fill="none" stroke="#6a6a6a" stroke-width="2"/>
<text x="1006.05" y="705.6" font-size="12" font-weight="normal" fill="#222" text-anchor="middle" >Sludge Buffer Basins</text>
<rect x="1087" y="647.3" width="130.4000000000001" height="29.100000000000023" fill="#f0f0f0"/>
<path d="M1087.5 676.4 V647.8 H1217.4" fill="none" stroke="#9a9a9a" stroke-width="1"/>
<path d="M1087 675.4 H1216.4 V647.3" fill="none" stroke="#6a6a6a" stroke-width="2"/>
<text x="1152.2" y="667.0" font-size="12" font-weight="normal" fill="#222" text-anchor="middle" >UV and Effluent</text>
<rect x="1087" y="685.9" width="130.4000000000001" height="29.100000000000023" fill="#f0f0f0"/>
<path d="M1087.5 715 V686.4 H1217.4" fill="none" stroke="#9a9a9a" stroke-width="1"/>
<path d="M1087 714 H1216.4 V685.9" fill="none" stroke="#6a6a6a" stroke-width="2"/>
<text x="1152.2" y="705.6" font-size="12" font-weight="normal" fill="#222" text-anchor="middle" >Biosolids</text>
<rect x="1259.4" y="647.2" width="128.5999999999999" height="28.799999999999955" fill="#f0f0f0"/>
<path d="M1259.9 676 V647.7 H1388" fill="none" stroke="#9a9a9a" stroke-width="1"/>
<path d="M1259.4 675 H1387 V647.2" fill="none" stroke="#6a6a6a" stroke-width="2"/>
<text x="1323.7" y="666.7" font-size="12" font-weight="normal" fill="#222" text-anchor="middle" >Alarm Summary</text>
<rect x="1259.4" y="685" width="128.5999999999999" height="28.899999999999977" fill="#f0f0f0"/>
<path d="M1259.9 713.9 V685.5 H1388" fill="none" stroke="#9a9a9a" stroke-width="1"/>
<path d="M1259.4 712.9 H1387 V685" fill="none" stroke="#6a6a6a" stroke-width="2"/>
<text x="1323.7" y="704.6" font-size="12" font-weight="normal" fill="#222" text-anchor="middle" >Totals</text>
<rect x="1259.4" y="724.5" width="128.5999999999999" height="28.5" fill="#f0f0f0"/>
<path d="M1259.9 753 V725.0 H1388" fill="none" stroke="#9a9a9a" stroke-width="1"/>
<path d="M1259.4 752 H1387 V724.5" fill="none" stroke="#6a6a6a" stroke-width="2"/>
<text x="1323.7" y="743.9" font-size="12" font-weight="normal" fill="#222" text-anchor="middle" >Trends</text>
<rect x="1434.4" y="655.4" width="128.5999999999999" height="28.200000000000045" fill="#f0f0f0"/>
<path d="M1434.9 683.6 V655.9 H1563" fill="none" stroke="#9a9a9a" stroke-width="1"/>
<path d="M1434.4 682.6 H1562 V655.4" fill="none" stroke="#6a6a6a" stroke-width="2"/>
<text x="1498.7" y="674.6" font-size="12" font-weight="normal" fill="#222" text-anchor="middle" >Login</text>
<text x="1596.4" y="661.5" font-size="10.5" font-weight="normal" fill="#333" text-anchor="start" textLength="125" lengthAdjust="spacingAndGlyphs" >DCFWLKM3\WHITEFI</text>
<text x="1596.4" y="673" font-size="10.5" font-weight="normal" fill="#333" text-anchor="start" textLength="60" lengthAdjust="spacingAndGlyphs" >SH WWTP</text>
<rect x="1433" y="709.3" width="317" height="30.3" fill="#efefef"/>
<text x="1511.6" y="731" font-size="13.5" font-weight="bold" fill="#111" text-anchor="start" textLength="156" lengthAdjust="spacingAndGlyphs" >4/11/2025 10:56:54 AM</text>
<text x="157.7" y="659.8" font-size="13" font-weight="bold" fill="#505050" text-anchor="start" textLength="49.5" lengthAdjust="spacingAndGlyphs" >CITY OF</text>
<text x="158" y="684.3" font-size="29.5" font-weight="bold" fill="#0f5c40" text-anchor="start" textLength="162.5" lengthAdjust="spacingAndGlyphs" >WHITEFISH</text>
<text x="256.6" y="698" font-size="11" font-weight="bold" fill="#555" text-anchor="start" textLength="66.3" lengthAdjust="spacingAndGlyphs" >MONTANA</text>
<text x="164.9" y="730" font-size="11.5" font-weight="bold" fill="#111" text-anchor="start" textLength="147.4" lengthAdjust="spacingAndGlyphs" >Wastewater Treatment Plant</text>
<ellipse cx="81.7" cy="694.5" rx="68.3" ry="62.5" fill="#fbfbfb"/>
<g clip-path="url(#logoclip)">
<rect x="20" y="638" width="124" height="115" fill="#0f5a40"/>
<rect x="20" y="638" width="124" height="32" fill="url(#gsky)"/>
<path d="M20 682 L40 677 L52 671 L60 670 L68 667 L77 664.6 L85 663.5 L93 661.3 L98 663 L103.4 665.2 L110 666 L119 667.9 L126 669 L131 670.5 L144 674 V706 H20 Z" fill="#0f5a40"/>
<path d="M60 673 L66 669 L70 674 M71 675 L77 667 L82 670 L79 676 M84 668 L90 664 L96 670 L94 675 M97 664 L103 668 L108 676 L110 680 M108 668 L116 671 L124 678 M120 670 L128 673 L134 676 M88 672 L92 678" stroke="#eef4f2" stroke-width="1.2" fill="none"/>
<rect x="20" y="706" width="124" height="50" fill="#1a7b72"/>
<path d="M20 706 H48 Q58 712 56 725 Q62 740 58 756 H20 Z" fill="#0e4f38"/>
<path d="M78 718 H100 M74 722 H118 M82 728 H110 M90 731 H126 M72 741 H98 M68 744 H106 M88 747 H104" stroke="#bfe0da" stroke-width="0.7" opacity="0.8"/>
</g>
<path clip-path="url(#treeclip)" d="M39 648 L42 654 L45 655 L43 658 L48 661 L46 664 L51 667 L48 670 L52 674 L49 677 L53 681 L50 684 L54 690 L51 694 L55 700 L52 706 L55 712 L52 720 L55 730 L51 748 L30 748 L29 730 L27 718 L29 708 L24 700 L27 694 L21 688 L27 683 L22 677 L29 672 L25 667 L31 663 L28 659 L34 657 L33 653 L37 651 Z" fill="#0a3526"/>
<ellipse cx="81.7" cy="695.5" rx="59.8" ry="55.2" fill="none" stroke="#0a2a20" stroke-width="1.4"/>
<text x="56.4" y="688" font-size="5.5" font-weight="normal" fill="#d8ece6" text-anchor="start" textLength="24.6" lengthAdjust="spacingAndGlyphs" >CITY OF</text>
<text x="56.4" y="700.5" font-size="14" font-weight="bold" fill="#ffffff" text-anchor="start" textLength="80.6" lengthAdjust="spacingAndGlyphs" >WHITEFISH</text>
<text x="106" y="706.5" font-size="4.5" font-weight="normal" fill="#d8ece6" text-anchor="start" textLength="31" lengthAdjust="spacingAndGlyphs" >MONTANA</text>
<rect x="0" y="764.4" width="1750" height="81.6" fill="#f0f0f0"/>
<ellipse cx="12.3" cy="777.2" rx="6" ry="5.2" fill="#66e066" stroke="#333" stroke-width="1"/>
<text x="23.3" y="781.2" font-size="11.2" font-weight="bold" fill="#222" text-anchor="start" letter-spacing="-0.25">Screen</text>
<ellipse cx="12.3" cy="796" rx="6" ry="5.2" fill="#66e066" stroke="#333" stroke-width="1"/>
<text x="23.3" y="800" font-size="11.2" font-weight="bold" fill="#222" text-anchor="start" letter-spacing="-0.25">Brush</text>
<ellipse cx="12.3" cy="814.8" rx="6" ry="5.2" fill="#66e066" stroke="#333" stroke-width="1"/>
<text x="23.3" y="818.8" font-size="11.2" font-weight="bold" fill="#222" text-anchor="start" letter-spacing="-0.25">Compactor</text>
<ellipse cx="102.9" cy="777.2" rx="6" ry="5.2" fill="#f4f4f4" stroke="#333" stroke-width="1"/>
<text x="114.2" y="781.2" font-size="11.2" font-weight="bold" fill="#222" text-anchor="start" letter-spacing="-0.25">Influent Pump 1</text>
<ellipse cx="102.9" cy="796" rx="6" ry="5.2" fill="#f4f4f4" stroke="#333" stroke-width="1"/>
<text x="114.2" y="800" font-size="11.2" font-weight="bold" fill="#222" text-anchor="start" letter-spacing="-0.25">Influent Pump 2</text>
<ellipse cx="102.9" cy="814.8" rx="6" ry="5.2" fill="#66e066" stroke="#333" stroke-width="1"/>
<text x="114.2" y="818.8" font-size="11.2" font-weight="bold" fill="#222" text-anchor="start" letter-spacing="-0.25">Influent Pump 3</text>
<ellipse cx="219.4" cy="777.2" rx="6" ry="5.2" fill="#66e066" stroke="#333" stroke-width="1"/>
<text x="230.4" y="781.2" font-size="11.2" font-weight="bold" fill="#222" text-anchor="start" letter-spacing="-0.25">Grit Chamber Drive</text>
<ellipse cx="219.4" cy="796" rx="6" ry="5.2" fill="#f4f4f4" stroke="#333" stroke-width="1"/>
<text x="230.4" y="800" font-size="11.2" font-weight="bold" fill="#222" text-anchor="start" letter-spacing="-0.25">Grit Pump</text>
<ellipse cx="219.4" cy="814.8" rx="6" ry="5.2" fill="#f4f4f4" stroke="#333" stroke-width="1"/>
<text x="230.4" y="818.8" font-size="11.2" font-weight="bold" fill="#222" text-anchor="start" letter-spacing="-0.25">Grit Washer Drive</text>
<ellipse cx="219.4" cy="833.6" rx="6" ry="5.2" fill="#f4f4f4" stroke="#333" stroke-width="1"/>
<text x="230.4" y="837.6" font-size="11.2" font-weight="bold" fill="#222" text-anchor="start" letter-spacing="-0.25">Grit Washer Conveyor</text>
<ellipse cx="358.3" cy="777.2" rx="6" ry="5.2" fill="#f4f4f4" stroke="#333" stroke-width="1"/>
<text x="369.6" y="781.2" font-size="11.2" font-weight="bold" fill="#222" text-anchor="start" letter-spacing="-0.25">Alum Pump 1</text>
<ellipse cx="358.3" cy="796" rx="6" ry="5.2" fill="#f4f4f4" stroke="#333" stroke-width="1"/>
<text x="369.6" y="800" font-size="11.2" font-weight="bold" fill="#222" text-anchor="start" letter-spacing="-0.25">Alum Pump 2</text>
<ellipse cx="358.3" cy="814.8" rx="6" ry="5.2" fill="#f4f4f4" stroke="#333" stroke-width="1"/>
<text x="369.6" y="818.8" font-size="11.2" font-weight="bold" fill="#222" text-anchor="start" letter-spacing="-0.25">Alum Pump 3</text>
<ellipse cx="358.3" cy="833.6" rx="6" ry="5.2" fill="#66e066" stroke="#333" stroke-width="1"/>
<text x="369.6" y="837.6" font-size="11.2" font-weight="bold" fill="#222" text-anchor="start" letter-spacing="-0.25">Alum Pump SB</text>
<ellipse cx="462.2" cy="777.2" rx="6" ry="5.2" fill="#66e066" stroke="#333" stroke-width="1"/>
<text x="473.8" y="781.2" font-size="11.2" font-weight="bold" fill="#222" text-anchor="start" letter-spacing="-0.25">Reactor Blower 1</text>
<ellipse cx="462.2" cy="796" rx="6" ry="5.2" fill="#66e066" stroke="#333" stroke-width="1"/>
<text x="473.8" y="800" font-size="11.2" font-weight="bold" fill="#222" text-anchor="start" letter-spacing="-0.25">Reactor Blower 2</text>
<ellipse cx="462.2" cy="814.8" rx="6" ry="5.2" fill="#f4f4f4" stroke="#333" stroke-width="1"/>
<text x="473.8" y="818.8" font-size="11.2" font-weight="bold" fill="#222" text-anchor="start" letter-spacing="-0.25">Reactor Blower 3</text>
<ellipse cx="582.9" cy="777.2" rx="6" ry="5.2" fill="#66e066" stroke="#333" stroke-width="1"/>
<text x="594.4" y="781.2" font-size="11.2" font-weight="bold" fill="#222" text-anchor="start" letter-spacing="-0.25">SBB1 Pump 1</text>
<ellipse cx="582.9" cy="796" rx="6" ry="5.2" fill="#f4f4f4" stroke="#333" stroke-width="1"/>
<text x="594.4" y="800" font-size="11.2" font-weight="bold" fill="#222" text-anchor="start" letter-spacing="-0.25">SBB1 Pump 1</text>
<ellipse cx="582.9" cy="814.8" rx="6" ry="5.2" fill="#f4f4f4" stroke="#333" stroke-width="1"/>
<text x="594.4" y="818.8" font-size="11.2" font-weight="bold" fill="#222" text-anchor="start" letter-spacing="-0.25">SBB2 Pump 1</text>
<ellipse cx="582.9" cy="833.6" rx="6" ry="5.2" fill="#f4f4f4" stroke="#333" stroke-width="1"/>
<text x="594.4" y="837.6" font-size="11.2" font-weight="bold" fill="#222" text-anchor="start" letter-spacing="-0.25">SBB2 Pump 2</text>
<ellipse cx="685" cy="777.2" rx="6" ry="5.2" fill="#f4f4f4" stroke="#333" stroke-width="1"/>
<text x="695.2" y="781.2" font-size="11.2" font-weight="bold" fill="#222" text-anchor="start" letter-spacing="-0.25">WLC Pump 1</text>
<ellipse cx="685" cy="796" rx="6" ry="5.2" fill="#f4f4f4" stroke="#333" stroke-width="1"/>
<text x="695.2" y="800" font-size="11.2" font-weight="bold" fill="#222" text-anchor="start" letter-spacing="-0.25">WLC Pump 2</text>
<ellipse cx="787" cy="777.2" rx="6" ry="5.2" fill="#f4f4f4" stroke="#333" stroke-width="1"/>
<text x="798" y="781.2" font-size="11.2" font-weight="bold" fill="#222" text-anchor="start" letter-spacing="-0.25">Biosolids Blower 1</text>
<ellipse cx="787" cy="796" rx="6" ry="5.2" fill="#66e066" stroke="#333" stroke-width="1"/>
<text x="798" y="800" font-size="11.2" font-weight="bold" fill="#222" text-anchor="start" letter-spacing="-0.25">Biosolids Blower 2</text>
<ellipse cx="912" cy="777.2" rx="6" ry="5.2" fill="#f4f4f4" stroke="#333" stroke-width="1"/>
<text x="923.6" y="781.2" font-size="11.2" font-weight="bold" fill="#222" text-anchor="start" letter-spacing="-0.25">Biosolids Mixing Pump 1</text>
<ellipse cx="912" cy="796" rx="6" ry="5.2" fill="#f4f4f4" stroke="#333" stroke-width="1"/>
<text x="923.6" y="800" font-size="11.2" font-weight="bold" fill="#222" text-anchor="start" letter-spacing="-0.25">Biosolids Mixing Pump 2</text>
<ellipse cx="912" cy="814.8" rx="6" ry="5.2" fill="#f4f4f4" stroke="#333" stroke-width="1"/>
<text x="923.6" y="818.8" font-size="11.2" font-weight="bold" fill="#222" text-anchor="start" letter-spacing="-0.25">Biosolids Transfer Pump 1</text>
<ellipse cx="912" cy="833.6" rx="6" ry="5.2" fill="#f4f4f4" stroke="#333" stroke-width="1"/>
<text x="923.6" y="837.6" font-size="11.2" font-weight="bold" fill="#222" text-anchor="start" letter-spacing="-0.25">Biosolids Transfer Pump 2</text>
<ellipse cx="1081" cy="777.2" rx="6" ry="5.2" fill="#f4f4f4" stroke="#333" stroke-width="1"/>
<text x="1092" y="781.2" font-size="11.2" font-weight="bold" fill="#222" text-anchor="start" letter-spacing="-0.25">NPW Pump 1</text>
<ellipse cx="1081" cy="796" rx="6" ry="5.2" fill="#f4f4f4" stroke="#333" stroke-width="1"/>
<text x="1092" y="800" font-size="11.2" font-weight="bold" fill="#222" text-anchor="start" letter-spacing="-0.25">NPW Pump 2</text>
<ellipse cx="1177.5" cy="777.2" rx="6" ry="5.2" fill="#f4f4f4" stroke="#333" stroke-width="1"/>
<text x="1188" y="781.2" font-size="11.2" font-weight="bold" fill="#222" text-anchor="start" letter-spacing="-0.25">Sidestream Pump 1</text>
<ellipse cx="1177.5" cy="796" rx="6" ry="5.2" fill="#f4f4f4" stroke="#333" stroke-width="1"/>
<text x="1188" y="800" font-size="11.2" font-weight="bold" fill="#222" text-anchor="start" letter-spacing="-0.25">Sidestream Pump 2</text>
<rect x="0" y="846.6" width="1747" height="3.6" fill="#0a0a0a"/>
<rect x="0" y="850.2" width="1747" height="44.5" fill="#ffffff"/>
<rect x="0" y="853.6" width="1747" height="1.8" fill="#8e8e8e"/>
<rect x="1.2" y="853.6" width="1.2" height="41" fill="#9a9a9a"/>
<path d="M12.8 858 L19.7 869 H6 Z" fill="#f0a030" stroke="#d08010" stroke-width="0.6"/><rect x="12.2" y="861" width="1.4" height="5" fill="#333"/>
<text x="30.9" y="867.8" font-size="10" font-weight="normal" fill="#e0b040" text-anchor="start" textLength="15.4" lengthAdjust="spacingAndGlyphs" >500</text>
<path d="M68 864 L71 869 L79.5 858" stroke="#333" stroke-width="1.8" fill="none"/><path d="M68.5 857 L71 861 H66 Z" fill="#dd2222"/>
<text x="178.3" y="868" font-size="10" font-weight="normal" fill="#e0b040" text-anchor="start" textLength="97.7" lengthAdjust="spacingAndGlyphs" xml:space="preserve">Blower 1 Failure  TRIP</text>
<text x="329" y="868" font-size="10" font-weight="normal" fill="#e0b040" text-anchor="start" textLength="233.3" lengthAdjust="spacingAndGlyphs" >Biosolids Blower #1 Failure or Drive Powered Down</text>
<rect x="0" y="895" width="1750" height="18" fill="#ececec"/>
<rect x="0" y="894.5" width="1750" height="1" fill="#d8d8d8"/>
<rect x="22.3" y="896" width="1" height="17" fill="#d0d0d0"/>
<rect x="145.7" y="896" width="1" height="17" fill="#d0d0d0"/>
<rect x="205.2" y="896" width="1" height="17" fill="#d0d0d0"/>
<rect x="265.7" y="896" width="1" height="17" fill="#d0d0d0"/>
<rect x="325" y="896" width="1" height="17" fill="#d0d0d0"/>
<rect x="385.7" y="896" width="1" height="17" fill="#d0d0d0"/>
<rect x="529.7" y="896" width="1" height="17" fill="#d0d0d0"/>
<rect x="552" y="896" width="1" height="17" fill="#d0d0d0"/>
<rect x="1715" y="896" width="1" height="17" fill="#d0d0d0"/>
<rect x="1737" y="896" width="1" height="17" fill="#d0d0d0"/>
<rect x="7" y="899" width="3" height="14" fill="#555"/><circle cx="14" cy="906" r="5" fill="#22aa44"/>
<path d="M154 911 Q154 902 158 900 Q162 902 162 911 Z" fill="#444"/>
<text x="166.5" y="912" font-size="11" font-weight="normal" fill="#333" text-anchor="start" >0</text>
<path d="M212 905 L215 910 L222 901" stroke="#333" stroke-width="1.6" fill="none"/><path d="M213 899 L215 903 H211 Z" fill="#dd2222"/>
<text x="226.5" y="912" font-size="11" font-weight="normal" fill="#333" text-anchor="start" >1</text>
<path d="M272 913 L275 906 L278 913 Z" fill="#2a8aa0"/>
<text x="286.5" y="912" font-size="11" font-weight="normal" fill="#333" text-anchor="start" >3</text>
<path d="M340 899 L336 907 H340 L338 913" stroke="#999" stroke-width="1.2" fill="none"/>
<text x="346.5" y="912" font-size="11" font-weight="normal" fill="#333" text-anchor="start" >0</text>
<circle cx="398" cy="906" r="6" fill="#333"/>
<text x="406.5" y="912" font-size="11" font-weight="normal" fill="#333" text-anchor="start" >0</text>
<path d="M1712 908 L1716 912 L1726 899" stroke="#888" stroke-width="1.4" fill="none"/>
<rect x="1747.5" y="0" width="2.5" height="625" fill="#d4d4d4"/>
<rect x="1747" y="764.6" width="3" height="148.4" fill="#e6e6e6"/><rect x="1747" y="764.6" width="3" height="62" fill="#cfcfcf"/>
</svg></body></html>
